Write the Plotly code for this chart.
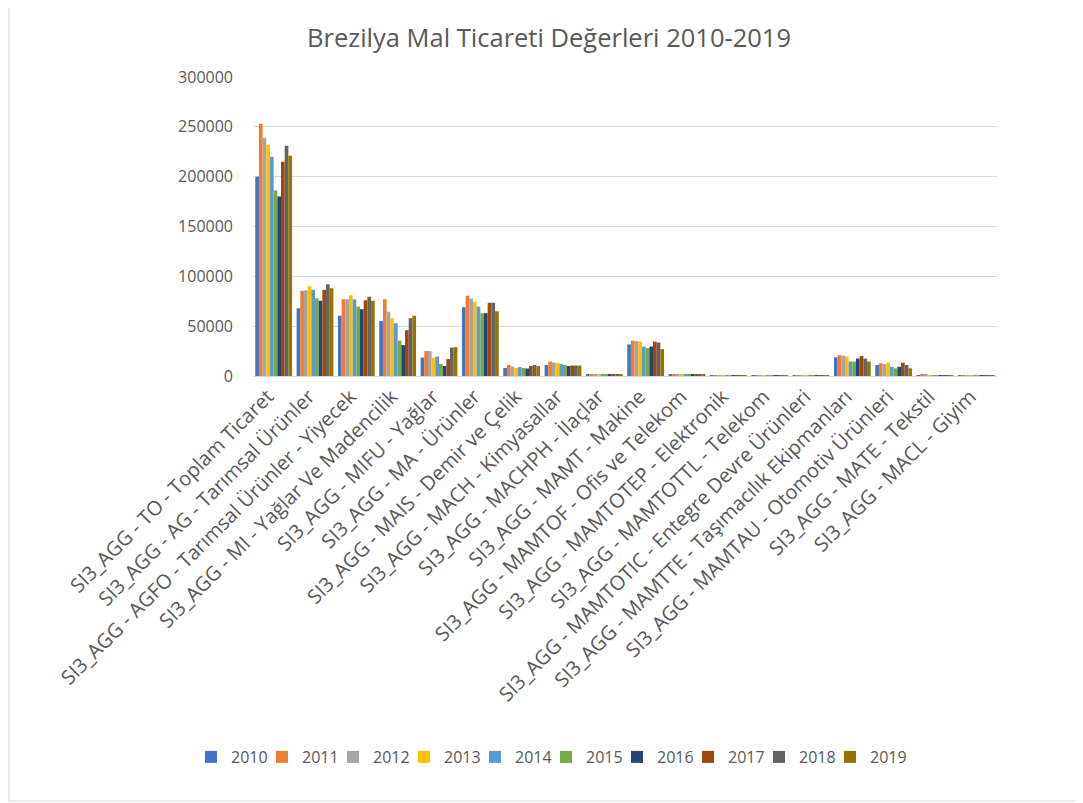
import plotly.graph_objects as go

categories = [
    "SI3_AGG - TO - Toplam Ticaret",
    "SI3_AGG - AG - Tarımsal Ürünler",
    "SI3_AGG - AGFO - Tarımsal Ürünler - Yiyecek",
    "SI3_AGG - MI - Yağlar Ve Madencilik",
    "SI3_AGG - MIFU - Yağlar",
    "SI3_AGG - MA - Ürünler",
    "SI3_AGG - MAIS - Demir ve Çelik",
    "SI3_AGG - MACH - Kimyasallar",
    "SI3_AGG - MACHPH - İlaçlar",
    "SI3_AGG - MAMT - Makine",
    "SI3_AGG - MAMTOF - Ofis ve Telekom",
    "SI3_AGG - MAMTOTEP - Elektronik",
    "SI3_AGG - MAMTOTTL - Telekom",
    "SI3_AGG - MAMTOTIC - Entegre Devre Ürünleri",
    "SI3_AGG - MAMTTE - Taşımacılık Ekipmanları",
    "SI3_AGG - MAMTAU - Otomotiv Ürünleri",
    "SI3_AGG - MATE - Tekstil",
    "SI3_AGG - MACL - Giyim",
]

years = ["2010", "2011", "2012", "2013", "2014", "2015", "2016", "2017", "2018", "2019"]

v2010 = [200000, 68000, 60500, 55000, 18500, 69000, 8000, 11000, 1300, 31700, 1800, 700, 900, 300, 18700, 11000, 1000, 300]
v2011 = [253000, 85500, 77000, 77000, 25000, 80500, 11000, 14500, 1500, 35500, 2000, 800, 1000, 300, 21000, 12700, 1100, 300]
v2012 = [239000, 86000, 77000, 64500, 25000, 77500, 9500, 13500, 1500, 35000, 1900, 800, 1000, 300, 20500, 12000, 1100, 300]
v2013 = [232000, 90000, 81000, 58000, 18000, 74500, 8000, 13000, 1600, 34500, 1900, 800, 1000, 300, 19500, 13300, 1000, 300]
v2014 = [220000, 86500, 77000, 53000, 19500, 69500, 9000, 12000, 1600, 29500, 1700, 700, 900, 300, 14500, 9300, 1000, 300]
v2015 = [186000, 78000, 69500, 35500, 12000, 63000, 8000, 11000, 1500, 28000, 1400, 600, 800, 200, 14500, 7700, 800, 200]
v2016 = [180000, 75500, 67000, 31000, 10000, 63000, 7500, 10000, 1500, 29500, 1300, 600, 700, 200, 17500, 9300, 800, 200]
v2017 = [215000, 86500, 76000, 46000, 17000, 73500, 10000, 10500, 1600, 34500, 1500, 700, 800, 300, 20000, 13300, 900, 300]
v2018 = [231000, 92000, 79500, 58000, 28500, 73500, 11000, 10500, 1700, 33500, 1600, 700, 800, 300, 17500, 11000, 900, 300]
v2019 = [221000, 88000, 75500, 60500, 29000, 65000, 10000, 10500, 1700, 27000, 1500, 600, 700, 300, 14500, 7700, 800, 300]

series = [v2010, v2011, v2012, v2013, v2014, v2015, v2016, v2017, v2018, v2019]
colors = ["#4472C4", "#ED7D31", "#A5A5A5", "#FFC000", "#5B9BD5",
          "#70AD47", "#264478", "#9E480E", "#636363", "#997300"]

fig = go.Figure()
for yr, vals, col in zip(years, series, colors):
    fig.add_trace(go.Bar(name=yr, x=categories, y=vals, marker_color=col,
                         marker_line_width=0))

# invisible legend-only spacer entry so that the last legend label is not clipped
fig.add_trace(go.Scatter(name=" ", x=[categories[0]], y=[0], mode="markers",
                         marker=dict(color="rgba(0,0,0,0)"),
                         visible="legendonly", hoverinfo="skip",
                         showlegend=True))

W, H = 1083, 803
L, R, T, B = 245, 94, 69, 435
pw, ph = W - L - R, H - T - B

def px_x(p):
    return (p - L) / pw

def px_y(p):
    return (H - B - p) / ph

fig.update_layout(
    width=W, height=H,
    margin=dict(l=L, r=R, t=T, b=B, autoexpand=False),
    paper_bgcolor="white", plot_bgcolor="white",
    barmode="group", bargap=0.11, bargroupgap=0,
    font=dict(family="Open Sans", color="#595959"),
    title=dict(text="Brezilya Mal Ticareti Değerleri 2010-2019",
               x=541 / W, xanchor="center", y=1 - 30 / H, yanchor="middle",
               font=dict(size=25.5, color="#595959", family="Open Sans")),
    showlegend=True,
    legend=dict(orientation="h", x=px_x(183), xanchor="left",
                y=px_y(749), yanchor="middle",
                font=dict(size=16, color="#595959"),
                entrywidth=26, entrywidthmode="pixels", itemwidth=30,
                traceorder="normal", bgcolor="rgba(0,0,0,0)",
                itemclick=False, itemdoubleclick=False),
    shapes=[dict(type="rect", xref="paper", yref="paper",
                 x0=px_x(1), x1=px_x(1073), y0=px_y(793), y1=px_y(-5),
                 line=dict(color="#D9D9D9", width=1), fillcolor="rgba(0,0,0,0)",
                 layer="below")],
)

fig.update_xaxes(tickangle=-45, tickfont=dict(size=20, color="#595959"),
                 showline=True, linecolor="#D9D9D9", linewidth=1,
                 ticks="", automargin=False, showgrid=False,
                 ticklabelshift=-6)
fig.update_yaxes(range=[0, 300000], dtick=50000, tickformat="d",
                 tickfont=dict(size=16, color="#595959"),
                 showgrid=True, gridcolor="#D9D9D9", gridwidth=1,
                 zeroline=False, showline=False, ticks="",
                 ticklabelstandoff=19, automargin=False)

fig.write_html("out.html")
